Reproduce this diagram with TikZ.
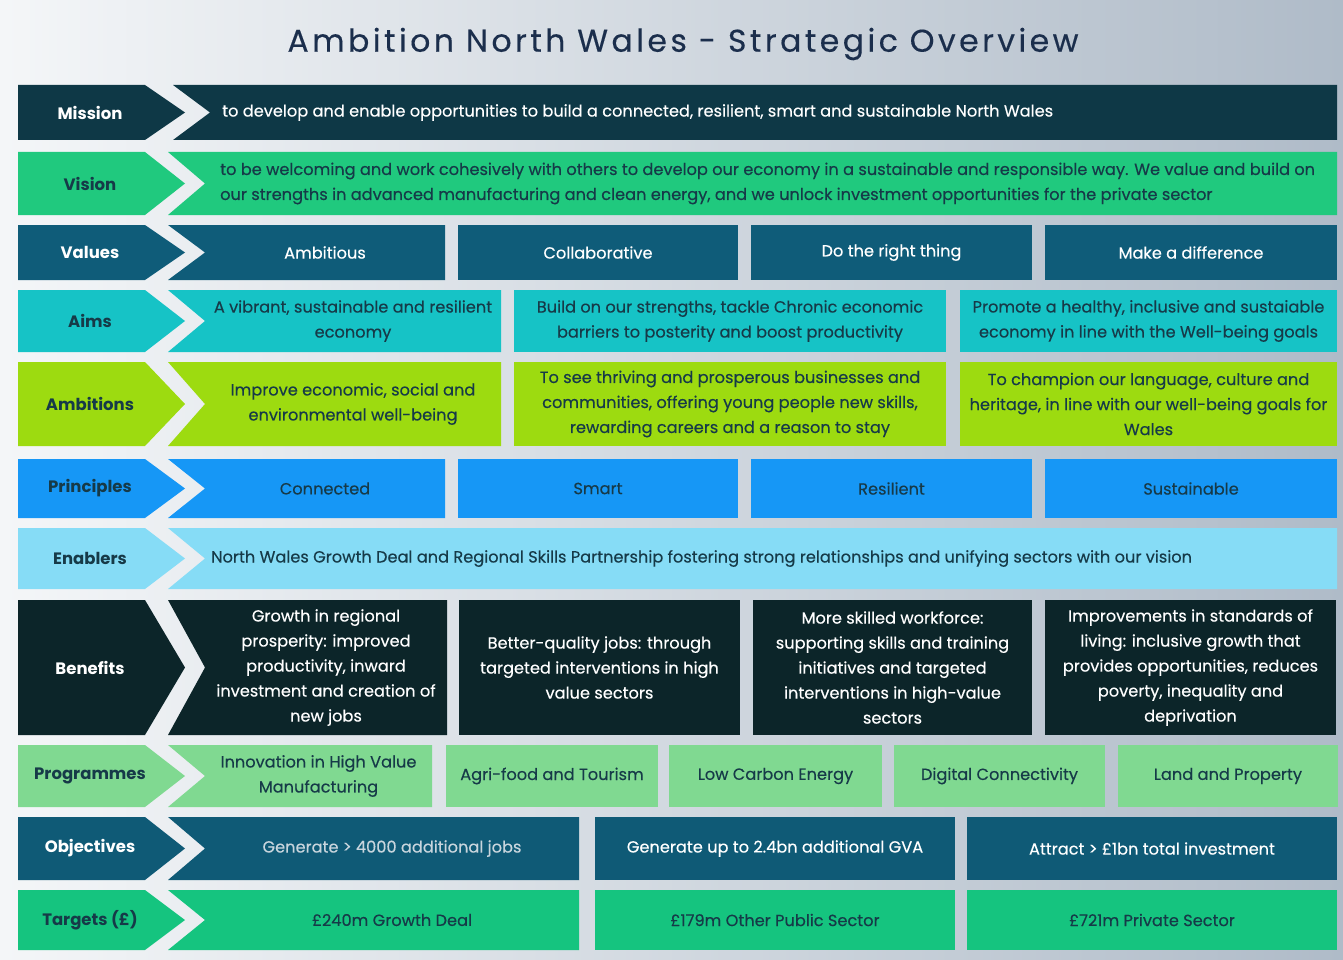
\documentclass[tikz,border=0pt]{standalone}
\usepackage{fontspec}
\setmainfont{Poppins}
\newfontfamily\medfont{Poppins}[FakeBold=0.3]
\definecolor{bgL}{HTML}{F4F6F8}
\definecolor{bgR}{HTML}{AFBBC8}
\definecolor{cMission}{HTML}{0E3846}
\definecolor{cVision}{HTML}{20C97E}
\definecolor{cValues}{HTML}{0F5C79}
\definecolor{cAims}{HTML}{16C3C6}
\definecolor{cAmb}{HTML}{9DDB10}
\definecolor{cPrin}{HTML}{1697F6}
\definecolor{cEnab}{HTML}{86DCF6}
\definecolor{cBen}{HTML}{0C2529}
\definecolor{cProg}{HTML}{80D991}
\definecolor{cObj}{HTML}{0F5A76}
\definecolor{cTarg}{HTML}{15C47F}
\definecolor{tDark}{HTML}{163A48}
\definecolor{tTitle}{HTML}{1B2E4C}
\definecolor{tPale}{HTML}{C8D5DD}
\tikzset{
  labtext/.style={font=\bfseries\fontsize{16.5}{20}\selectfont, align=center, inner sep=0pt},
  boxtext/.style={font=\medfont\fontsize{16.2}{25}\selectfont, align=center, inner sep=0pt},
}
\newcommand\rowlab[6]{%
  \fill[#4] (18,#2) -- (145,#2) -- (185,{(#2+#3)/2}) -- (145,#3) -- (18,#3) -- cycle;
  \node[labtext, text=#5] (#1) at (90,{(#2+#3)/2}) {#6};}
\newcommand\firstbox[7]{%
  \fill[#5] (168,#3) -- (#2,#3) -- (#2,#4) -- (168,#4) -- (205,{(#3+#4)/2}) -- cycle;
  \node[boxtext, text=#6] (#1) at ({(205+#2)/2},{(#3+#4)/2}) {#7};}
\newcommand\plainbox[8]{%
  \fill[#6] (#2,#4) rectangle (#3,#5);
  \node[boxtext, text=#7] (#1) at ({(#2+#3)/2},{(#4+#5)/2}) {#8};}
\begin{document}
\begin{tikzpicture}[x=1pt,y=-1pt]
\useasboundingbox (0,0) rectangle (1343,960);
\shade[left color=bgL, right color=bgR] (0,0) rectangle (1343,960);
\node[font=\medfont\fontsize{31.5}{36}\selectfont\addfontfeatures{LetterSpace=11}, text=tTitle] (title) at (683,44) {Ambition North Wales - Strategic Overview};
% Mission
\rowlab{lMission}{85}{140}{cMission}{white}{Mission}
\fill[cMission] (173,85) -- (1337,85) -- (1337,140) -- (173,140) -- (210,112.5) -- cycle;
\node[boxtext, text=white, anchor=west] (mission) at (222,112.5) {to develop and enable opportunities to build a connected, resilient, smart and sustainable North Wales};
% Vision
\rowlab{lVision}{152}{215}{cVision}{tDark}{Vision}
\fill[cVision] (168,152) -- (1337,152) -- (1337,215) -- (168,215) -- (205,183.5) -- cycle;
\node[boxtext, text=tDark, anchor=west, align=left] (vision) at (220,183.5) {to be welcoming and work cohesively with others to develop our economy in a sustainable and responsible way. We value and build on\\our strengths in advanced manufacturing and clean energy, and we unlock investment opportunities for the private sector};
% Values
\rowlab{lValues}{225}{280}{cValues}{white}{Values}
\firstbox{va1}{445}{225}{280}{cValues}{white}{Ambitious}
\plainbox{va2}{458}{738}{225}{280}{cValues}{white}{Collaborative}
\plainbox{va3}{751}{1032}{225}{280}{cValues}{white}{Do the right thing}
\plainbox{va4}{1045}{1337}{225}{280}{cValues}{white}{Make a difference}
% Aims
\rowlab{lAims}{290}{352}{cAims}{tDark}{Aims}
\firstbox{ai1}{501}{290}{352}{cAims}{tDark}{A vibrant, sustainable and resilient\\economy}
\plainbox{ai2}{514}{946}{290}{352}{cAims}{tDark}{Build on our strengths, tackle Chronic economic\\barriers to posterity and boost productivity}
\plainbox{ai3}{960}{1337}{290}{352}{cAims}{tDark}{Promote a healthy, inclusive and sustaiable\\economy in line with the Well-being goals}
% Ambitions
\rowlab{lAmb}{362}{446}{cAmb}{tDark}{Ambitions}
\firstbox{am1}{501}{362}{446}{cAmb}{tDark}{Improve economic, social and\\environmental well-being}
\plainbox{am2}{514}{946}{362}{446}{cAmb}{tDark}{To see thriving and prosperous businesses and\\communities, offering young people new skills,\\rewarding careers and a reason to stay}
\plainbox{am3}{960}{1337}{362}{446}{cAmb}{tDark}{To champion our language, culture and\\heritage, in line with our well-being goals for\\Wales}
% Principles
\rowlab{lPrin}{459}{518}{cPrin}{tDark}{Principles}
\firstbox{pr1}{445}{459}{518}{cPrin}{tDark}{Connected}
\plainbox{pr2}{458}{738}{459}{518}{cPrin}{tDark}{Smart}
\plainbox{pr3}{751}{1032}{459}{518}{cPrin}{tDark}{Resilient}
\plainbox{pr4}{1045}{1337}{459}{518}{cPrin}{tDark}{Sustainable}
% Enablers
\rowlab{lEnab}{528}{589}{cEnab}{tDark}{Enablers}
\fill[cEnab] (168,528) -- (1337,528) -- (1337,589) -- (168,589) -- (205,558.5) -- cycle;
\node[boxtext, text=tDark, anchor=west] (enab) at (211,558.5) {North Wales Growth Deal and Regional Skills Partnership fostering strong relationships and unifying sectors with our vision};
% Benefits
\rowlab{lBen}{600}{735}{cBen}{white}{Benefits}
\firstbox{be1}{447}{600}{735}{cBen}{white}{Growth in regional\\prosperity: improved\\productivity, inward\\investment and creation of\\new jobs}
\plainbox{be2}{459}{740}{600}{735}{cBen}{white}{Better-quality jobs: through\\targeted interventions in high\\value sectors}
\plainbox{be3}{753}{1032}{600}{735}{cBen}{white}{More skilled workforce:\\supporting skills and training\\initiatives and targeted\\interventions in high-value\\sectors}
\plainbox{be4}{1045}{1336}{600}{735}{cBen}{white}{Improvements in standards of\\living: inclusive growth that\\provides opportunities, reduces\\poverty, inequality and\\deprivation}
% Programmes
\rowlab{lProg}{745}{807}{cProg}{tDark}{Programmes}
\firstbox{pg1}{432}{745}{807}{cProg}{tDark}{Innovation in High Value\\Manufacturing}
\plainbox{pg2}{446}{658}{745}{807}{cProg}{tDark}{Agri-food and Tourism}
\plainbox{pg3}{669}{882}{745}{807}{cProg}{tDark}{Low Carbon Energy}
\plainbox{pg4}{894}{1105}{745}{807}{cProg}{tDark}{Digital Connectivity}
\plainbox{pg5}{1118}{1338}{745}{807}{cProg}{tDark}{Land and Property}
% Objectives
\rowlab{lObj}{817}{880}{cObj}{white}{Objectives}
\firstbox{ob1}{579}{817}{880}{cObj}{tPale}{Generate > 4000 additional jobs}
\plainbox{ob2}{595}{955}{817}{880}{cObj}{white}{Generate up to 2.4bn additional GVA}
\plainbox{ob3}{967}{1337}{817}{880}{cObj}{white}{Attract > £1bn total investment}
% Targets
\rowlab{lTarg}{890}{950}{cTarg}{tDark}{Targets (£)}
\firstbox{tg1}{579}{890}{950}{cTarg}{tDark}{£240m Growth Deal}
\plainbox{tg2}{595}{955}{890}{950}{cTarg}{tDark}{£179m Other Public Sector}
\plainbox{tg3}{967}{1337}{890}{950}{cTarg}{tDark}{£721m Private Sector}
\end{tikzpicture}
\end{document}
